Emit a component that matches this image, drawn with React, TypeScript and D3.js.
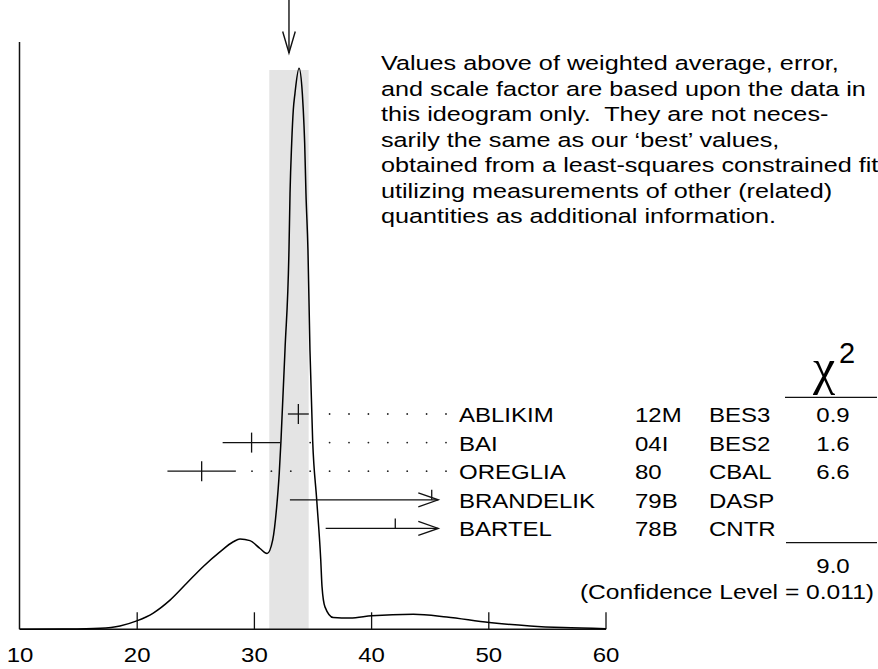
import React from "react";
import * as d3 from "d3";

// ---------- data ----------
const xTicks = [10, 20, 30, 40, 50, 60];
const weightedAverage = 32.95;
const weightedError = 1.68;

const names = ["ABLIKIM", "BAI", "OREGLIA", "BRANDELIK", "BARTEL"];
const years = ["12M", "04I", "80", "79B", "78B"];
const experiments = ["BES3", "BES2", "CBAL", "DASP", "CNTR"];
const values = [33.75, 29.76, 25.5, 45.13, 42.02];
const errors = [0.89, 2.47, 2.92, 12.1, 5.94];
const offScale = [false, false, false, true, true];
const chi2 = ["0.9", "1.6", "6.6", "", ""];
const chi2Total = "9.0";
const confidenceLevel = "0.011";

// ideogram curve (x value, relative height)
const curveX = [10, 13.67, 16.83, 18.53, 19.96, 21.37, 22.8, 24.22, 25.64, 27.06, 28.2, 28.77, 29.62, 30.48, 31.08, 31.56, 31.9, 32.12, 32.27, 32.61, 32.95, 33.04, 33.18, 33.32, 33.46, 33.81, 34.09, 34.17, 34.29, 34.4, 34.57, 34.74, 34.97, 35.32, 35.66, 35.77, 36.02, 36.73, 38.16, 40.01, 43.56, 46.41, 50.04, 53.52, 56.36, 60];
const curveY = [0, 0.0005, 0.002, 0.006, 0.015, 0.029, 0.052, 0.082, 0.112, 0.138, 0.156, 0.161, 0.158, 0.144, 0.135, 0.159, 0.218, 0.278, 0.337, 0.498, 0.676, 0.777, 0.866, 0.926, 0.955, 1.0, 0.955, 0.926, 0.866, 0.777, 0.676, 0.498, 0.337, 0.23, 0.124, 0.076, 0.04, 0.021, 0.02, 0.024, 0.027, 0.022, 0.012, 0.006, 0.003, 0.001];

const noteLines = [
  "Values above of weighted average, error,",
  "and scale factor are based upon the data in",
  "this ideogram only.  They are not neces-",
  "sarily the same as our \u2018best\u2019 values,",
  "obtained from a least-squares constrained fit",
  "utilizing measurements of other (related)",
  "quantities as additional information.",
];

// ---------- layout ----------
const W = 878;
const H = 669;
const axisY = 629.3;
const FONT = "'Liberation Sans', Arial, Helvetica, sans-serif";
const SX = 1.2;
const INK = "#111";

const x = d3.scaleLinear().domain([10, 60]).range([20, 606]);
const y = d3.scaleLinear().domain([0, 1]).range([axisY, 68.3]);

function T({ x: tx, y: ty, size = 20, anchor = "start", sx = SX, children }: any) {
  return (
    <text
      transform={`translate(${tx},${ty}) scale(${sx},1)`}
      fontSize={size}
      fontFamily={FONT}
      textAnchor={anchor}
      fill="#000"
      style={{ whiteSpace: "pre" }}
    >
      {children}
    </text>
  );
}

export default function App() {
  const pts: [number, number][] = curveX.map((v, i) => [v, curveY[i]]);
  const line = d3
    .line<[number, number]>()
    .x((d) => x(d[0]))
    .y((d) => y(d[1]))
    .curve(d3.curveMonotoneX);

  const rowY0 = 414;
  const rowStep = 28.6;
  const nameX = 459;
  const yearX = 635;
  const expX = 709;
  const chiX = 833;
  const arrowEnd = 438.3;
  const dotStep = 19.4;
  const lastDot = 446;

  const avgX = x(weightedAverage);

  return (
    <svg width={W} height={H} style={{ display: "block", position: "absolute", left: 0, top: 0 }}>
      <rect x={0} y={0} width={W} height={H} fill="#fff" />
      {/* band */}
      <rect
        x={x(weightedAverage - weightedError)}
        y={70}
        width={x(weightedAverage + weightedError) - x(weightedAverage - weightedError)}
        height={axisY - 70}
        fill="#e4e4e4"
      />
      {/* top arrow */}
      <line x1={avgX} y1={0} x2={avgX} y2={53} stroke={INK} strokeWidth={1.4} />
      <polyline
        points={`${avgX - 6.3},31.5 ${avgX},53 ${avgX + 6.3},31.5`}
        fill="none"
        stroke={INK}
        strokeWidth={1.4}
      />
      {/* axes */}
      <line x1={19.5} y1={42} x2={19.5} y2={axisY} stroke={INK} strokeWidth={1.5} />
      <line x1={19.5} y1={axisY} x2={606} y2={axisY} stroke={INK} strokeWidth={1.5} />
      {xTicks.slice(1).map((t) => (
        <line key={t} x1={x(t)} x2={x(t)} y1={axisY - 17} y2={axisY} stroke={INK} strokeWidth={1.3} />
      ))}
      {xTicks.map((t) => (
        <T key={t} x={x(t)} y={661.7} anchor="middle">
          {t}
        </T>
      ))}
      {/* curve */}
      <path d={line(pts) || ""} fill="none" stroke="#000" strokeWidth={1.5} />
      {/* measurements */}
      {names.map((n, i) => {
        const ry = rowY0 + i * rowStep;
        const lo = x(values[i] - errors[i]);
        const hi = x(values[i] + errors[i]);
        const c = x(values[i]);
        const dots: number[] = [];
        if (!offScale[i]) {
          for (let d = lastDot; d > hi + 12; d -= dotStep) dots.push(d);
        }
        return (
          <g key={n}>
            {offScale[i] ? (
              <g stroke={INK} strokeWidth={1.3} fill="none">
                <line x1={lo} x2={arrowEnd} y1={ry} y2={ry} />
                <polyline points={`${arrowEnd - 20},${ry - 7} ${arrowEnd},${ry} ${arrowEnd - 20},${ry + 7}`} />
                <line x1={c} x2={c} y1={ry - 10} y2={ry} />
              </g>
            ) : (
              <g stroke={INK} strokeWidth={1.3}>
                <line x1={lo} x2={hi} y1={ry} y2={ry} />
                <line x1={c} x2={c} y1={ry - 10} y2={ry + 10} />
              </g>
            )}
            {dots.map((d) => (
              <circle key={d} cx={d} cy={ry} r={0.9} fill="#222" />
            ))}
            <T x={nameX} y={ry + 8}>{n}</T>
            <T x={yearX} y={ry + 8}>{years[i]}</T>
            <T x={expX} y={ry + 8}>{experiments[i]}</T>
            {chi2[i] && (
              <T x={chiX} y={ry + 8} anchor="middle">
                {chi2[i]}
              </T>
            )}
          </g>
        );
      })}
      {/* chi2 header */}
      <text x={813} y={384} fontSize={50} fontFamily="'Liberation Serif', 'DejaVu Serif', serif" fill="#000">
        χ
      </text>
      <text x={839} y={362.5} fontSize={29} fontFamily={FONT} fill="#000">
        2
      </text>
      <line x1={785} x2={877} y1={397.3} y2={397.3} stroke={INK} strokeWidth={1.3} />
      <line x1={786} x2={877} y1={542.7} y2={542.7} stroke={INK} strokeWidth={1.3} />
      <T x={chiX} y={573} anchor="middle">
        {chi2Total}
      </T>
      <T x={874} y={599} anchor="end" sx={1.23}>
        {`(Confidence Level = ${confidenceLevel})`}
      </T>
      {/* note */}
      {noteLines.map((l, i) => (
        <T key={i} x={381} y={70 + i * 25.5} size={20.5} sx={1.23}>
          {l}
        </T>
      ))}
    </svg>
  );
}
